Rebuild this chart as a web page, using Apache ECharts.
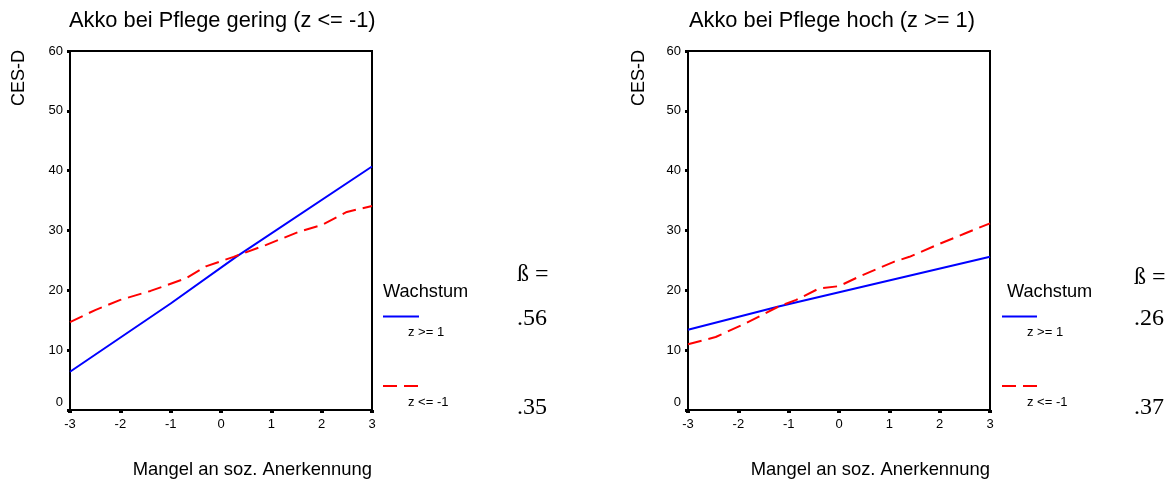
<!DOCTYPE html>
<html><head><meta charset="utf-8">
<script src="https://cdn.jsdelivr.net/npm/echarts@6/dist/echarts.min.js"></script>
<style>html,body{margin:0;padding:0;background:#fff}#c{width:1176px;height:482px}</style>
</head><body><div id="c"></div>
<script>
const titles = ['Akko bei Pflege gering (z <= -1)', 'Akko bei Pflege hoch (z >= 1)'];
const yName = 'CES-D';
const xName = 'Mangel an soz. Anerkennung';
const legendTitle = 'Wachstum';
const seriesNames = ['z >= 1', 'z <= -1'];
const betaLabel = 'ß =';
const betaLeft = ['.56', '.35'];
const betaRight = ['.26', '.37'];
const xTicks = [-3, -2, -1, 0, 1, 2, 3];
const yTicks = [0, 10, 20, 30, 40, 50, 60];

const leftHighX = [-3, -1, 0.3, 3];
const leftHighY = [6.4, 17.8, 25.6, 40.7];
const leftLowX = [-3, -2.5, -2, -1.4, -0.7, -0.3, 0.25, 0.9, 1.55, 2, 2.5, 3];
const leftLowY = [14.7, 16.7, 18.4, 19.9, 22.0, 24.0, 25.6, 27.6, 29.8, 30.9, 33.1, 34.1];
const rightHighX = [-3, -1.2, 3];
const rightHighY = [13.4, 17.3, 25.6];
const rightLowX = [-3, -2.45, -1.85, -1.2, -0.85, -0.4, 0, 0.4, 1.1, 1.4, 1.95, 2.5, 3];
const rightLowY = [11.0, 12.2, 14.5, 17.3, 18.4, 20.3, 20.7, 22.3, 24.8, 25.6, 27.6, 29.5, 31.2];

const pairs = (xs, ys) => xs.map((x, i) => [x, ys[i]]);
const FONT = 'Liberation Sans';
const SERIF = 'Liberation Serif';

function xAxisCfg(idx) {
  return {
    type: 'value', gridIndex: idx, min: xTicks[0], max: xTicks[xTicks.length - 1], interval: 1,
    axisLine: { show: true, onZero: false, lineStyle: { color: '#000', width: 2 } },
    axisTick: { show: true, length: 3, lineStyle: { color: '#000', width: 4 } },
    axisLabel: { color: '#000', fontSize: 13, fontFamily: FONT, margin: 8 },
    splitLine: { show: false },
    name: xName, nameLocation: 'end', nameGap: 0,
    nameTextStyle: { color: '#000', fontSize: 18.4, fontFamily: FONT, align: 'right', verticalAlign: 'top', padding: [51, 0, 0, 0] }
  };
}
function yAxisCfg(idx) {
  return {
    type: 'value', gridIndex: idx, min: yTicks[0], max: yTicks[yTicks.length - 1], interval: 10,
    axisLine: { show: true, onZero: false, lineStyle: { color: '#000', width: 2 } },
    axisTick: { show: true, length: 3, lineStyle: { color: '#000', width: 3 } },
    axisLabel: {
      color: '#000', fontSize: 13, fontFamily: FONT, margin: 7,
      formatter: v => v === 0 ? '{z|0}' : String(v),
      rich: { z: { fontSize: 13, fontFamily: FONT, color: '#000', padding: [0, 0, 16, 0] } }
    },
    splitLine: { show: false }
  };
}
function lineSeries(idx, name, data, color, dashed) {
  return {
    type: 'line', name, xAxisIndex: idx, yAxisIndex: idx, data,
    symbol: 'none', smooth: false, animation: false,
    lineStyle: { color, width: 2, type: dashed ? [14, 7] : 'solid' }
  };
}
function legendGraphic(textX, lineX1, lineX2) {
  const ts = { fill: '#000', fontFamily: FONT };
  return [
    { type: 'text', x: textX, y: 292, style: Object.assign({ text: legendTitle, fontSize: 18.2, verticalAlign: 'middle' }, ts) },
    { type: 'line', shape: { x1: lineX1, y1: 316.5, x2: lineX2, y2: 316.5 }, style: { stroke: '#0000ff', lineWidth: 2 } },
    { type: 'text', x: lineX1 + 25, y: 332, style: Object.assign({ text: seriesNames[0], fontSize: 13, verticalAlign: 'middle' }, ts) },
    { type: 'line', shape: { x1: lineX1, y1: 386, x2: lineX2, y2: 386 }, style: { stroke: '#ff0000', lineWidth: 2, lineDash: [14, 7] } },
    { type: 'text', x: lineX1 + 25, y: 402, style: Object.assign({ text: seriesNames[1], fontSize: 13, verticalAlign: 'middle' }, ts) }
  ];
}
function betaGraphic(x, yb, vals) {
  const st = { fill: '#000', fontFamily: SERIF, fontSize: 24, verticalAlign: 'middle' };
  return [
    { type: 'text', x: x, y: yb, style: Object.assign({ text: betaLabel }, st) },
    { type: 'text', x: x, y: 319, style: Object.assign({ text: vals[0] }, st) },
    { type: 'text', x: x, y: 408, style: Object.assign({ text: vals[1] }, st) }
  ];
}
function yNameGraphic(x) {
  return { type: 'text', x: x, y: 78, rotation: Math.PI / 2,
    style: { text: yName, fontSize: 18, fontFamily: FONT, fill: '#000', align: 'center', verticalAlign: 'middle' } };
}

const chart = echarts.init(document.getElementById('c'), null, { renderer: 'canvas' });
chart.setOption({
  backgroundColor: '#fff',
  animation: false,
  title: [
    { text: titles[0], left: 69, top: 10, padding: 0, textStyle: { color: '#000', fontSize: 21.8, fontWeight: 'normal', fontFamily: FONT } },
    { text: titles[1], left: 689, top: 10, padding: 0, textStyle: { color: '#000', fontSize: 21.8, fontWeight: 'normal', fontFamily: FONT } }
  ],
  grid: [
    { left: 70, width: 302, top: 51, height: 359, show: true, borderColor: '#000', borderWidth: 2, backgroundColor: 'transparent' },
    { left: 688, width: 302, top: 51, height: 359, show: true, borderColor: '#000', borderWidth: 2, backgroundColor: 'transparent' }
  ],
  xAxis: [xAxisCfg(0), xAxisCfg(1)],
  yAxis: [yAxisCfg(0), yAxisCfg(1)],
  series: [
    lineSeries(0, seriesNames[0], pairs(leftHighX, leftHighY), '#0000ff', false),
    lineSeries(0, seriesNames[1], pairs(leftLowX, leftLowY), '#ff0000', true),
    lineSeries(1, seriesNames[0], pairs(rightHighX, rightHighY), '#0000ff', false),
    lineSeries(1, seriesNames[1], pairs(rightLowX, rightLowY), '#ff0000', true)
  ],
  graphic: [].concat(
    legendGraphic(383, 383, 419),
    legendGraphic(1007, 1002, 1037),
    betaGraphic(517, 275, betaLeft),
    betaGraphic(1134, 278, betaRight),
    [yNameGraphic(19), yNameGraphic(639)]
  )
});
</script>
</body></html>
